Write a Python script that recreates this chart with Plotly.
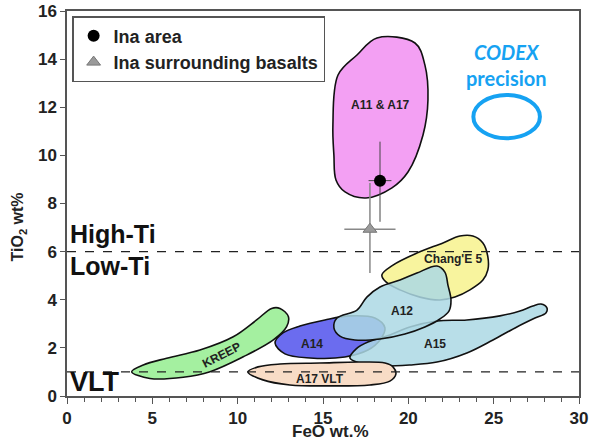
import plotly.graph_objects as go

# ---------------- data ----------------
a1117_x = [18.16, 20.39, 20.97, 21.15, 20.86, 19.98, 19.04, 17.52, 16.29, 15.76, 15.64, 15.58, 15.88, 16.99, 18.16]
a1117_y = [14.88, 14.67, 13.76, 12.30, 10.85, 9.31, 8.65, 8.23, 8.48, 8.98, 10.0, 11.26, 13.34, 14.17, 14.88]

kreep_x = [3.79, 4.86, 6.81, 8.38, 10.33, 12.09, 12.87, 12.97, 12.48, 11.99, 11.11, 9.74, 7.79, 5.84, 4.47, 3.79]
kreep_y = [1.01, 0.73, 0.78, 1.01, 1.63, 2.33, 2.88, 3.30, 3.64, 3.64, 3.16, 2.46, 1.91, 1.57, 1.29, 1.01]

a14_x = [12.19, 12.65, 13.65, 15.11, 16.58, 18.04, 18.63, 18.34, 17.63, 16.28, 14.24, 12.77, 12.19]
a14_y = [2.20, 2.62, 2.91, 3.16, 3.33, 3.24, 2.83, 2.33, 1.91, 1.62, 1.58, 1.75, 2.20]

a17vlt_x = [10.60, 11.19, 12.48, 14.82, 17.16, 18.63, 19.10, 19.27, 18.92, 17.75, 15.41, 13.06, 11.48, 10.60]
a17vlt_y = [1.00, 1.21, 1.33, 1.37, 1.41, 1.37, 1.21, 0.91, 0.62, 0.46, 0.42, 0.46, 0.67, 1.00]

a12_x = [21.68, 22.14, 22.32, 22.50, 22.38, 21.85, 20.97, 19.80, 18.34, 16.87, 15.99, 15.64, 15.82, 16.99, 17.57, 18.34, 19.51, 20.50, 21.68]
a12_y = [5.40, 5.15, 4.61, 3.99, 3.53, 3.20, 2.87, 2.58, 2.37, 2.33, 2.49, 2.83, 3.24, 3.57, 4.11, 4.53, 4.82, 5.11, 5.40]

ce5_x = [18.45, 18.69, 19.51, 20.68, 21.85, 22.73, 23.61, 24.37, 24.66, 24.66, 24.37, 23.78, 23.02, 22.03, 20.50, 19.10, 18.45]
ce5_y = [5.03, 4.74, 4.41, 4.11, 3.99, 4.11, 4.41, 4.82, 5.24, 5.78, 6.36, 6.65, 6.65, 6.36, 5.94, 5.44, 5.03]

a15_x = [16.58, 16.93, 17.63, 18.92, 20.09, 21.68, 23.43, 25.37, 26.54, 27.30, 27.77, 28.12, 28.06, 27.42, 26.36, 24.96, 23.43, 21.68, 20.09, 18.34, 17.16, 16.58]
a15_y = [1.58, 1.95, 2.24, 2.54, 2.87, 3.12, 3.16, 3.33, 3.53, 3.74, 3.82, 3.66, 3.45, 3.24, 2.87, 2.33, 1.79, 1.41, 1.29, 1.25, 1.37, 1.58]

ina_x = [18.34]
ina_y = [8.95]
ina_xerr = [0.67]
ina_yerr_plus = [1.62]
ina_yerr_minus = [1.71]

surr_x = [17.75]
surr_y = [6.93]
surr_xerr = [1.5]
surr_yerr_plus = [1.92]
surr_yerr_minus = [1.82]

high_low_ti = 6
vlt_line = 1

codex_cx, codex_cy = 25.76, 11.61
codex_rx, codex_ry = 1.95, 0.90

region_labels = ["A11 & A17", "Chang'E 5", "A12", "A14", "A15", "A17 VLT", "KREEP"]
region_label_x = [18.34, 22.63, 19.6, 14.33, 21.56, 14.82, 9.06]
region_label_y = [12.09, 5.68, 3.55, 2.16, 2.16, 0.71, 1.70]

x_range = [0, 30]
y_range = [0, 16]

FONT = "Liberation Sans, Arial, sans-serif"

fig = go.Figure()

def region(x, y, fill, opacity=1.0):
    fig.add_trace(go.Scatter(
        x=x, y=y, mode="lines", fill="toself", fillcolor=fill,
        line=dict(color="#111111", width=1.6, shape="spline", smoothing=1.0),
        opacity=opacity, showlegend=False, hoverinfo="skip"))

region(ce5_x, ce5_y, "#f8f49e")
region(a14_x, a14_y, "#6b6cef")
region(a15_x, a15_y, "rgba(172,216,228,0.85)")
region(a12_x, a12_y, "rgba(172,216,228,0.85)")
region(a17vlt_x, a17vlt_y, "#f8dcc6")
region(kreep_x, kreep_y, "#a4f0a0")
region(a1117_x, a1117_y, "#f3a0f3")

# dashed reference lines
fig.add_shape(type="line", xref="x", yref="y", x0=x_range[0], x1=x_range[1], y0=high_low_ti, y1=high_low_ti,
              line=dict(color="#222222", width=1.2, dash="dash"), layer="above")
fig.add_shape(type="line", xref="x", yref="y", x0=x_range[0], x1=x_range[1], y0=vlt_line, y1=vlt_line,
              line=dict(color="#222222", width=1.2, dash="dash"), layer="above")

# data points
fig.add_trace(go.Scatter(
    x=ina_x, y=ina_y, mode="markers", name="Ina area", legendgroup="a",
    marker=dict(symbol="circle", size=12, color="#000000"),
    error_x=dict(type="data", array=ina_xerr, color="#444444", thickness=1, width=0),
    error_y=dict(type="data", symmetric=False, array=ina_yerr_plus, arrayminus=ina_yerr_minus,
                 color="#444444", thickness=1, width=0)))
fig.add_trace(go.Scatter(
    x=surr_x, y=surr_y, mode="markers", name="Ina surrounding basalts", legendgroup="b",
    marker=dict(symbol="triangle-up", size=12, color="#9a9a9a", line=dict(color="#777777", width=1)),
    error_x=dict(type="data", array=surr_xerr, color="#888888", thickness=1.5, width=0),
    error_y=dict(type="data", symmetric=False, array=surr_yerr_plus, arrayminus=surr_yerr_minus,
                 color="#888888", thickness=1.5, width=0)))

# region labels
for t, lx, ly in zip(region_labels, region_label_x, region_label_y):
    fig.add_annotation(x=lx, y=ly, text=t, showarrow=False,
                       textangle=-27 if t == "KREEP" else 0,
                       font=dict(family=FONT, size=12, color="#222222", weight="bold"))

# Ti class labels
for t, ly, sz in [("High-Ti", 6.73, 25), ("Low-Ti", 5.40, 25), ("VLT", 0.58, 27)]:
    fig.add_annotation(x=0.05, y=ly, text=t, showarrow=False, xanchor="left", yanchor="middle",
                       font=dict(family=FONT, size=sz, color="#111111", weight="bold"))

# CODEX precision
fig.add_shape(type="circle", xref="x", yref="y",
              x0=codex_cx - codex_rx, x1=codex_cx + codex_rx,
              y0=codex_cy - codex_ry, y1=codex_cy + codex_ry,
              line=dict(color="#16a2f2", width=4))
fig.add_annotation(x=codex_cx, y=13.75, text="<i><b>CODEX</b></i><br><b>precision</b>", showarrow=False,
                   font=dict(family="Lato, Open Sans, sans-serif", size=20, color="#16a2f2"))

# axis titles
fig.add_annotation(xref="paper", yref="paper", x=0.514, y=-0.091, text="FeO wt.%", showarrow=False,
                   xanchor="center", yanchor="middle",
                   font=dict(family=FONT, size=17, color="#222222", weight="bold"))
fig.add_annotation(xref="paper", yref="paper", x=-0.094, y=0.44, text="TiO<sub>2</sub> wt%", showarrow=False,
                   textangle=-90, xanchor="center", yanchor="middle",
                   font=dict(family=FONT, size=16, color="#222222", weight="bold"))

fig.update_layout(
    width=591, height=442,
    margin=dict(l=67, r=12, t=11, b=46),
    paper_bgcolor="white", plot_bgcolor="white",
    font=dict(family=FONT, color="#222222"),
    legend=dict(x=0.01, y=0.987, xanchor="left", yanchor="top",
                bgcolor="white", bordercolor="#555555", borderwidth=1.5,
                font=dict(family=FONT, size=18, color="#222222", weight="bold"),
                itemwidth=30, tracegroupgap=0),
    xaxis=dict(range=x_range, showgrid=False, zeroline=False, automargin=False,
               showline=True, linecolor="#555555", linewidth=1.5, mirror=True,
               ticks="outside", ticklen=6, tickcolor="#555555", dtick=5, tick0=0,
               ticklabeloverflow="allow",
               minor=dict(ticks="outside", ticklen=4, dtick=1, tickcolor="#555555"),
               tickfont=dict(family=FONT, size=17, color="#222222", weight="bold")),
    yaxis=dict(range=y_range, showgrid=False, zeroline=False, automargin=False,
               showline=True, linecolor="#555555", linewidth=1.5, mirror=True,
               ticks="outside", ticklen=5, tickcolor="#555555", dtick=2, tick0=0,
               ticklabeloverflow="allow",
               tickfont=dict(family=FONT, size=17, color="#222222", weight="bold")),
)

# remove the default 8px page margin so the figure fills the window exactly
fig.write_html("out.html", config={"displayModeBar": False},
               post_script="document.body.style.margin='0px';")
